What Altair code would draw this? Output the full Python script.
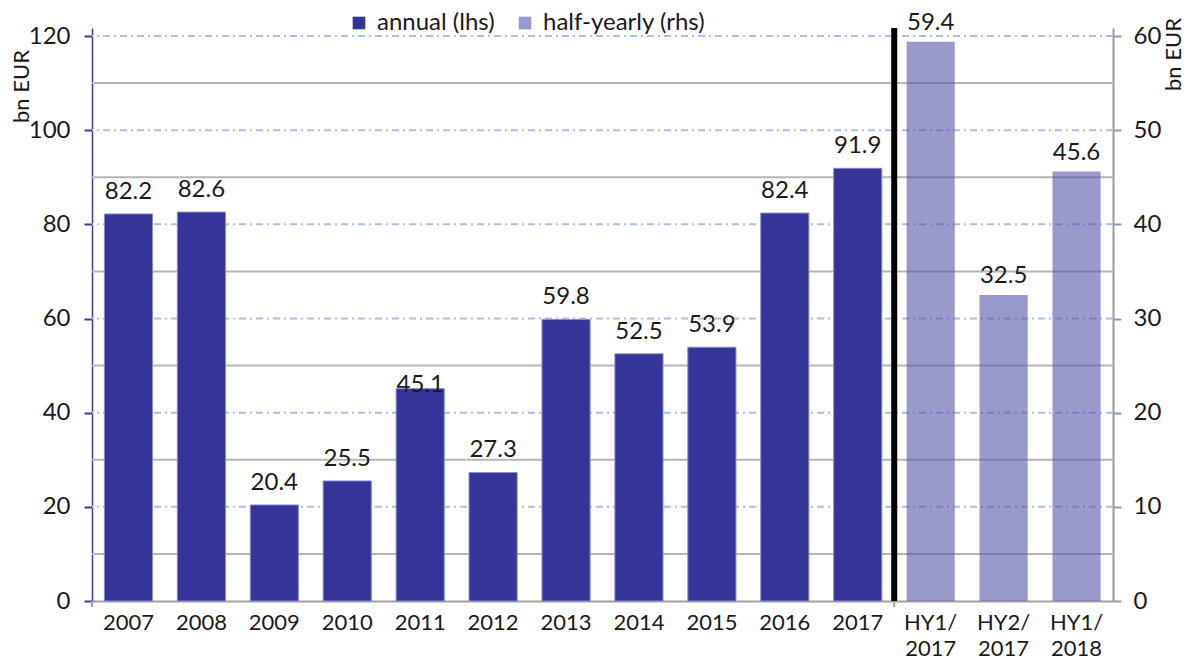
import altair as alt
import pandas as pd

annual_cats = ["2007", "2008", "2009", "2010", "2011", "2012", "2013", "2014", "2015", "2016", "2017"]
annual_vals = [82.2, 82.6, 20.4, 25.5, 45.1, 27.3, 59.8, 52.5, 53.9, 82.4, 91.9]
hy_cats = ["HY1/2017", "HY2/2017", "HY1/2018"]
hy_vals = [59.4, 32.5, 45.6]
series_names = ["annual (lhs)", "half-yearly (rhs)"]
left_ticks = [0, 20, 40, 60, 80, 100, 120]
right_ticks = [0, 10, 20, 30, 40, 50, 60]
grid_major = [20, 40, 60, 80, 100, 120]
grid_minor = [10, 30, 50, 70, 90, 110]

cats = annual_cats + hy_cats
df = pd.DataFrame({
    "cat": cats,
    "value": annual_vals + hy_vals,
    "series": [series_names[0]] * len(annual_cats) + [series_names[1]] * len(hy_cats),
    "label": [f"{v:.1f}" for v in annual_vals + hy_vals],
})

FONT = "Lato"
FS = 24
TFS = 22
TXT = "#1a1a1a"
DARK = "#353599"
LIGHT = "#9999cc"

xscale = alt.Scale(domain=cats, paddingInner=0, paddingOuter=0)
yl = alt.Scale(domain=[0, 121.7], nice=False, zero=True)
yr = alt.Scale(domain=[0, 60.85], nice=False, zero=True)
cscale = alt.Scale(domain=series_names, range=[DARK, LIGHT])

x_axis = alt.Axis(ticks=False, domainColor="#a0a0a0", domainWidth=2, labelFontSize=22,
                  labelAngle=0, labelPadding=11, labelLineHeight=26,
                  labelExpr="indexof(datum.label,'/')>0 ? [slice(datum.label,0,4), slice(datum.label,4)] : datum.label")
left_axis = alt.Axis(values=left_ticks, orient="left", grid=False, domainColor="#3c3ca0",
                     domainWidth=1.5, tickColor="#3c3ca0", tickWidth=2, tickSize=8,
                     labelPadding=14, titleAngle=270, titleX=-71, titleY=58,
                     titleAlign="center", titleBaseline="middle")
right_axis = alt.Axis(values=right_ticks, orient="right", grid=False, domainColor="#999999",
                      domainWidth=2, tickColor="#999999", tickWidth=2, tickSize=8,
                      labelPadding=12, titleAngle=270, titleX=60, titleY=26,
                      titleAlign="center", titleBaseline="middle")

X = alt.X("cat:N", scale=xscale, sort=cats, title=None, axis=x_axis)
YL = alt.Y("value:Q", scale=yl, title="bn EUR", axis=left_axis)
YR = alt.Y("value:Q", scale=yr, title="bn EUR", axis=right_axis)

base = alt.Chart(df)

grid_maj = alt.Chart(pd.DataFrame({"value": grid_major})).mark_rule(
    color="#a9bfea", strokeWidth=2, strokeDash=[7, 4, 2, 4]
).encode(y=YL)

grid_min = alt.Chart(pd.DataFrame({"value": grid_minor})).mark_rule(
    color="#b5b5b5", strokeWidth=2
).encode(y=YL)

dark = base.transform_filter(alt.datum.series == series_names[0]).mark_bar(
    width={"band": 0.66}, stroke="#8a8ad0", strokeWidth=1
).encode(
    x=X, y=YL,
    color=alt.Color("series:N", scale=cscale,
                    legend=alt.Legend(title=None, orient="none", legendX=255, legendY=-17,
                                      direction="horizontal", symbolType="square",
                                      symbolSize=160, symbolStrokeWidth=0, labelLimit=0,
                                      labelFontSize=FS, labelFont=FONT, labelColor=TXT,
                                      columnPadding=18, labelOffset=6)),
)

dark_lab = base.transform_filter(
    (alt.datum.series == series_names[0]) & (alt.datum.cat != "2011")
).mark_text(baseline="alphabetic", dy=-15, fontSize=FS, font=FONT, color=TXT).encode(
    x=X, y=YL, text="label:N",
)
dark_lab_2011 = base.transform_filter(alt.datum.cat == "2011").mark_text(
    baseline="alphabetic", dy=3, fontSize=FS, font=FONT, color=TXT
).encode(x=X, y=YL, text="label:N")

xticks = alt.layer(
    alt.Chart(pd.DataFrame({"cat": ["2007"]})).mark_rule(color="#a0a0a0", strokeWidth=2).encode(
        x=alt.X("cat:N", scale=xscale, sort=cats, title=None, axis=x_axis, bandPosition=0),
        y=alt.datum(0, scale=yl), y2=alt.datum(-1.3)),
    alt.Chart(pd.DataFrame({"cat": ["2017"]})).mark_rule(color="#a0a0a0", strokeWidth=2).encode(
        x=alt.X("cat:N", scale=xscale, sort=cats, title=None, axis=x_axis, bandPosition=1),
        y=alt.datum(0, scale=yl), y2=alt.datum(-1.3)),
)

left = alt.layer(grid_min, grid_maj, xticks, dark, dark_lab, dark_lab_2011)

light = base.transform_filter(alt.datum.series == series_names[1]).mark_bar(
    width={"band": 0.66}, fill="#5555aa", opacity=0.6
).encode(x=X, y=YR)
light_lab = base.transform_filter(alt.datum.series == series_names[1]).mark_text(
    baseline="alphabetic", dy=-12, fontSize=FS, font=FONT, color=TXT
).encode(x=X, y=YR, text="label:N")
sep = alt.Chart(pd.DataFrame({"cat": ["2017"]})).mark_rule(color="black", strokeWidth=6).encode(
    x=alt.X("cat:N", scale=xscale, sort=cats, title=None, axis=x_axis, bandPosition=1)
)

right = alt.layer(light, light_lab, sep)

chart = alt.layer(left, right).resolve_scale(y="independent").properties(
    width=1021, height=573, autosize="none",
    padding={"left": 84, "top": 20, "right": 73, "bottom": 63},
).configure_axis(
    labelFont=FONT, labelFontSize=FS, labelColor=TXT,
    titleFont=FONT, titleFontSize=TFS, titleColor=TXT, titleFontWeight="normal",
).configure_view(stroke=None)

chart.save("out.html", embed_options={"renderer": "svg", "actions": False})
